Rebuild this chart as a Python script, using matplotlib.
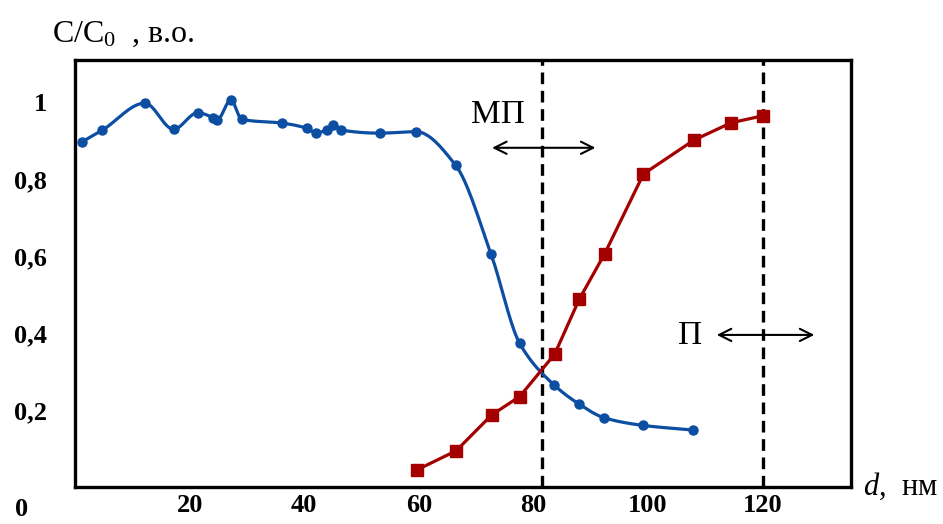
import matplotlib
matplotlib.use("Agg")
import matplotlib.pyplot as plt
import numpy as np

plt.rcParams['font.family'] = ['Liberation Serif', 'DejaVu Serif']
plt.rcParams['mathtext.fontset'] = 'custom'
plt.rcParams['mathtext.rm'] = 'Liberation Serif'
plt.rcParams['mathtext.it'] = 'Liberation Serif:italic'

# данные
d_mp = [1.3, 4.8, 12.2, 17.2, 21.4, 24.1, 24.8, 27.2, 29.1, 36.2, 40.4, 42.0, 43.9,
        45.0, 46.5, 53.2, 59.5, 66.4, 72.6, 77.6, 83.6, 88.0, 92.3, 99.1, 107.8]
c_mp = [0.897, 0.927, 0.997, 0.929, 0.972, 0.959, 0.953, 1.005, 0.955, 0.945, 0.932,
        0.920, 0.927, 0.940, 0.927, 0.919, 0.923, 0.836, 0.605, 0.373, 0.265, 0.215,
        0.180, 0.160, 0.148]

d_p = [59.6, 66.5, 72.7, 77.6, 83.7, 88.0, 92.4, 99.2, 108.0, 114.5, 120.0]
c_p = [0.044, 0.094, 0.187, 0.235, 0.345, 0.488, 0.605, 0.813, 0.901, 0.946, 0.964]

borders = [81.5, 120.0]
x_ticks = [20, 40, 60, 80, 100, 120]
y_ticks = [0.2, 0.4, 0.6, 0.8, 1.0]
y_labels = ['0,2', '0,4', '0,6', '0,8', '1']


def pchip(x, y, n=30):
    # сглаживание линии между точками (монотонный кубический сплайн)
    x = np.asarray(x, float)
    y = np.asarray(y, float)
    h = np.diff(x)
    s = np.diff(y) / h
    m = np.zeros_like(y)
    for k in range(1, len(x) - 1):
        if s[k - 1] * s[k] > 0:
            w1 = 2 * h[k] + h[k - 1]
            w2 = h[k] + 2 * h[k - 1]
            m[k] = (w1 + w2) / (w1 / s[k - 1] + w2 / s[k])
    m[0] = s[0]
    m[-1] = s[-1]
    xs, ys = [], []
    for k in range(len(x) - 1):
        t = np.linspace(0, 1, n, endpoint=False)
        h00 = 2 * t**3 - 3 * t**2 + 1
        h10 = t**3 - 2 * t**2 + t
        h01 = -2 * t**3 + 3 * t**2
        h11 = t**3 - t**2
        xs.append(x[k] + t * h[k])
        ys.append(h00 * y[k] + h10 * h[k] * m[k] + h01 * y[k + 1] + h11 * h[k] * m[k + 1])
    xs.append([x[-1]])
    ys.append([y[-1]])
    return np.concatenate(xs), np.concatenate(ys)


fig = plt.figure(figsize=(9.43, 5.24), dpi=100)
ax = fig.add_axes([0.0795, 0.0706, 0.8229, 0.8149])

blue = '#0b4ea2'
red = '#a50000'

xs, ys = pchip(d_mp, c_mp)
ax.plot(xs, ys, color=blue, linewidth=2.3, zorder=3)
ax.plot(d_mp, c_mp, 'o', color=blue, markersize=6.5, zorder=4)
ax.plot(d_p, c_p, 's-', color=red, linewidth=2.3, markersize=8, zorder=3)

for b in borders:
    ax.axvline(b, color='black', linestyle=(0, (3.5, 2)), linewidth=2.4, zorder=2)

ax.annotate('', xy=(72.3, 0.881), xytext=(91.3, 0.881),
            arrowprops=dict(arrowstyle='<->', color='black', lw=1.5, mutation_scale=22))
ax.text(73.8, 0.968, 'МП', fontsize=24, ha='center', va='center')
ax.annotate('', xy=(111.5, 0.395), xytext=(129.5, 0.395),
            arrowprops=dict(arrowstyle='<->', color='black', lw=1.5, mutation_scale=22))
ax.text(107.4, 0.392, 'П', fontsize=24, ha='center', va='center')

ax.set_xlim(0, 135.4)
ax.set_ylim(0, 1.109)
ax.set_xticks(x_ticks)
ax.set_xticklabels([str(v) for v in x_ticks], fontsize=19, fontweight='bold')
ax.set_yticks(y_ticks)
ax.set_yticklabels(y_labels, fontsize=19, fontweight='bold')
ax.tick_params(length=0, pad=5)
ax.tick_params(axis='y', pad=20)
for sp in ax.spines.values():
    sp.set_linewidth(2.4)

fig.text(22 / 943, 1 - 510 / 524, '0', fontsize=19, fontweight='bold',
         ha='center', va='center')
fig.text(52 / 943, 1 - 42 / 524, 'C/C$_0$  , в.о.', fontsize=23, va='baseline')
fig.text(863 / 943, 1 - 495 / 524, '$d$,  нм', fontsize=22, va='baseline')

fig.savefig('out.png', dpi=100)
